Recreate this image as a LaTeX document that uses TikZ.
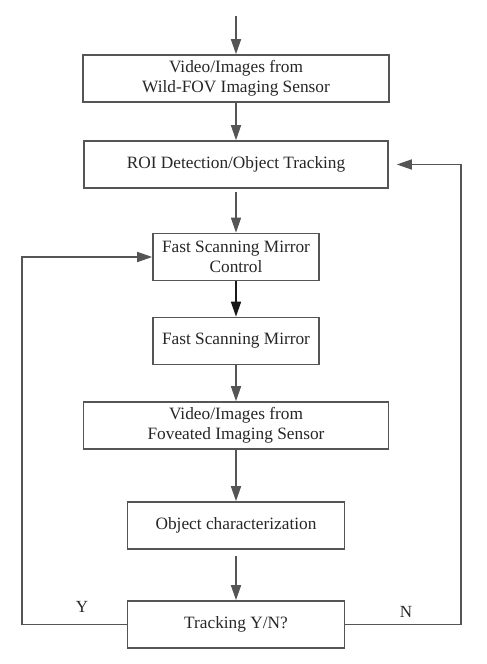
\documentclass[tikz,border=0pt]{standalone}
\usepackage{fontspec}
\setmainfont{Liberation Serif}
\usepackage{tikz}
\usetikzlibrary{arrows.meta,positioning}

\definecolor{linegray}{HTML}{555555}

\begin{document}
\begin{tikzpicture}[x=1pt, y=1pt, thick,
        main/.style = {draw=linegray, line width=1.6pt, rectangle, minimum height=47pt, inner sep=0pt, align=center, text=black!85, font=\fontsize{17.3}{20.5}\selectfont},
        flow/.style = {draw=linegray, line width=1.5pt, -{Triangle[length=15pt,width=10pt]}},
        label/.style = {text=black!85, font=\fontsize{17}{20}\selectfont}]
        \useasboundingbox (0,0) rectangle (487,-664);
        \node[main, minimum width=306pt] (1) at (236,-78.5) {Video/Images from\\Wild-FOV Imaging Sensor};
        \node[main, minimum width=304pt] (2) [below of=1, node distance=86pt] {ROI Detection/Object Tracking};
        \node[main, minimum width=166pt] (3) [below of=2, node distance=92.5pt] {Fast Scanning Mirror\\Control};
        \node[main, minimum width=166pt] (4) [below of=3, node distance=84pt] {Fast Scanning Mirror};
        \node[main, minimum width=305pt] (5) [below of=4, node distance=84.5pt] {Video/Images from\\Foveated Imaging Sensor};
        \node[main, minimum width=217pt] (6) [below of=5, node distance=100pt] {Object characterization};
        \node[main, minimum width=217pt] (7) [below of=6, node distance=99pt] {Tracking Y/N?};
        \coordinate (in) at (236,-16);
        \coordinate (ycorner) at (22,-624.5);
        \coordinate (ncorner) at (461,-624.5);
        \node[label] (y) at (82,-607) {Y};
        \node[label] (n) at (406,-612) {N};
        \draw[flow] (in) -- (1);
        \draw[flow] (1) -- (2);
        \draw[flow, shorten <=3pt] (2) -- (3);
        \draw[flow, draw=black!90] (3) -- (4);
        \draw[flow] (4) -- (5);
        \draw[flow] (5) -- (6);
        \draw[flow, shorten <=6pt] (6) -- (7);
        \draw[flow] (7.west) -- (ycorner) |- (3.west);
        \draw[flow, shorten >=8pt] (7.east) -- (ncorner) |- (2.east);
    \end{tikzpicture}
\end{document}
